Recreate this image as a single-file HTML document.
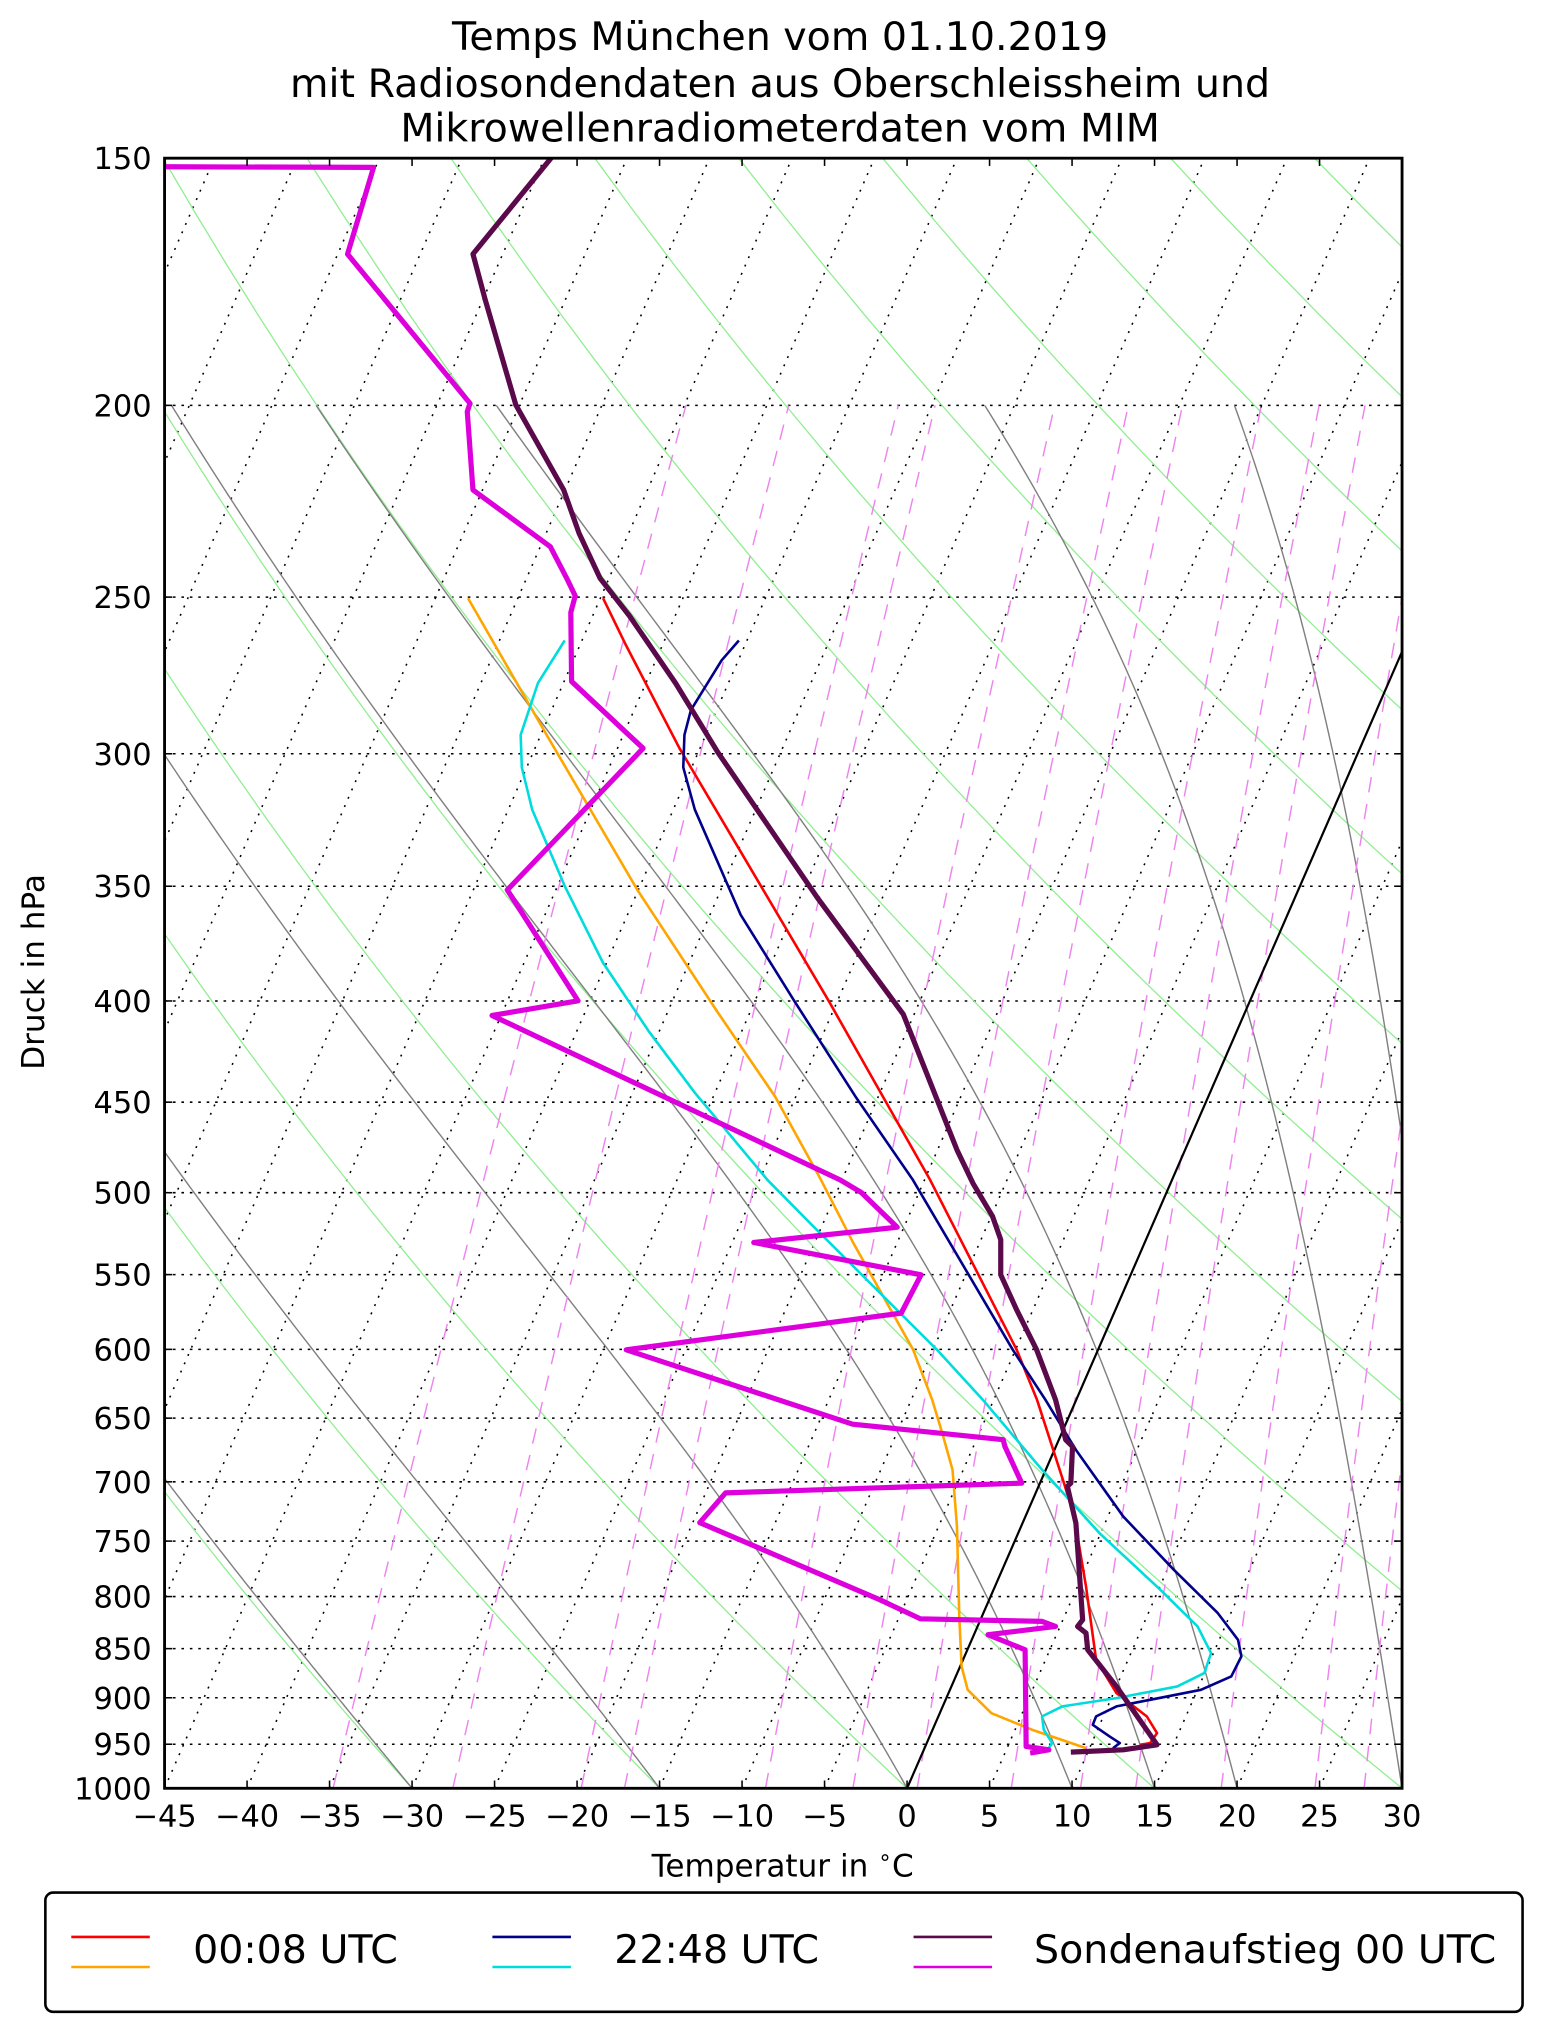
<!DOCTYPE html>
<html><head><meta charset="utf-8">
<style>
html,body{margin:0;padding:0;background:#fff;}
svg{display:block;}
text{font-family:"DejaVu Sans","Liberation Sans",sans-serif;fill:#000;}
</style></head>
<body>
<svg id="s" xmlns="http://www.w3.org/2000/svg" width="1542" height="2032" viewBox="0 0 1190 1568">
<defs><clipPath id="c"><rect x="127" y="122" width="955" height="1258"/></clipPath></defs>
<rect x="0" y="0" width="1190" height="1568" fill="#fff"/>
<g id="grid" clip-path="url(#c)" fill="none"></g>
<g id="data" clip-path="url(#c)" fill="none" stroke-linejoin="round"></g>
<rect x="127" y="122" width="955" height="1258" fill="none" stroke="#000" stroke-width="2.2"/>
<g id="ticks"></g>
<text x="602" y="38.6" font-size="30.5" text-anchor="middle">Temps München vom 01.10.2019</text>
<text x="602" y="74.6" font-size="30.5" text-anchor="middle">mit Radiosondendaten aus Oberschleissheim und</text>
<text x="602" y="109.3" font-size="30.5" text-anchor="middle">Mikrowellenradiometerdaten vom MIM</text>
<text x="604" y="1448" font-size="24" text-anchor="middle">Temperatur in <tspan font-size="17" dy="-9">∘</tspan><tspan dy="9">C</tspan></text>
<text transform="translate(34,750) rotate(-90)" font-size="24" text-anchor="middle">Druck in hPa</text>
<rect x="35" y="1460.5" width="1140" height="92" rx="6" fill="#fff" stroke="#000" stroke-width="2"/>
<line x1="55" y1="1494.7" x2="115.6" y2="1494.7" stroke="#ff0000" stroke-width="2"/>
<line x1="55" y1="1517.9" x2="115.6" y2="1517.9" stroke="#ffa500" stroke-width="2"/>
<text x="149" y="1515" font-size="30.5">00:08 UTC</text>
<line x1="380" y1="1494.7" x2="440.6" y2="1494.7" stroke="#00008b" stroke-width="2"/>
<line x1="380" y1="1517.9" x2="440.6" y2="1517.9" stroke="#00dcdc" stroke-width="2"/>
<text x="474" y="1515" font-size="30.5">22:48 UTC</text>
<line x1="705" y1="1494.7" x2="765.6" y2="1494.7" stroke="#5a0a4a" stroke-width="2"/>
<line x1="705" y1="1517.9" x2="765.6" y2="1517.9" stroke="#dd00dd" stroke-width="2"/>
<text x="798" y="1515" font-size="30.5">Sondenaufstieg 00 UTC</text>
</svg>
<script>
(function(){
var NS="http://www.w3.org/2000/svg";
var L=Math.log(1000/150);
function yP(p){return 122+Math.log(p/150)/L*1258;}
var K=0.4355, S=955/75;
function xT(T,y){return 700+S*T+K*(1380-y);}
function el(par,tag,at){var e=document.createElementNS(NS,tag);for(var k in at)e.setAttribute(k,at[k]);par.appendChild(e);return e;}
function pathD(pts){var d="";for(var i=0;i<pts.length;i++){d+=(i?"L":"M")+pts[i][0].toFixed(2)+" "+pts[i][1].toFixed(2);}return d;}
var g=document.getElementById("grid"), dg=document.getElementById("data"), tg=document.getElementById("ticks");
var pres=[];for(var p=150;p<=1000;p+=50)pres.push(p);
pres.forEach(function(p){var y=yP(p);el(g,"line",{x1:127,y1:y,x2:1082,y2:y,stroke:"#000","stroke-width":1.2,"stroke-dasharray":"2,4.5"});});
for(var T=-150;T<=30;T+=5){el(g,"line",{x1:xT(T,1380),y1:1380,x2:xT(T,122),y2:122,stroke:"#000","stroke-width":1.2,"stroke-dasharray":"1.5,5.5"});}
for(var T0=-45;T0<=250;T0+=15){var th=T0+273.15,pts=[];for(var p=1000;p>=148;p-=10){var Tk=th*Math.pow(p/1000,0.2857);var y=yP(p);pts.push([xT(Tk-273.15,y),y]);}
el(g,"path",{d:pathD(pts),stroke:"#90ee90","stroke-width":1,fill:"none"});}
function es(Tk){return 6.112*Math.exp(17.67*(Tk-273.15)/(Tk-29.65));}
function dTdp(Tk,p){var e=es(Tk),rs=0.622*e/(p-e);var Rd=287.04,Lv=2.501e6,Cp=1005;return (Rd*Tk+Lv*rs)/(Cp+Lv*Lv*rs*0.622/(Rd*Tk*Tk))/p;}
[-30,-15,0,10,15,20,30,35].forEach(function(T0){var Tk=T0+273.15,pts=[],p=1000,dp=-2;pts.push([xT(T0,1380),1380]);
while(p>200){var k1=dTdp(Tk,p),k2=dTdp(Tk+k1*dp/2,p+dp/2),k3=dTdp(Tk+k2*dp/2,p+dp/2),k4=dTdp(Tk+k3*dp,p+dp);Tk+=dp*(k1+2*k2+2*k3+k4)/6;p+=dp;var y=yP(p);pts.push([xT(Tk-273.15,y),y]);}
el(g,"path",{d:pathD(pts),stroke:"#808080","stroke-width":1.1,fill:"none"});});
[0.2,0.4,0.8,1,2,3,4,6,8,10,14,20,24].forEach(function(w){var pts=[];for(var p=1000;p>=200;p-=10){var e=w/1000*p/(0.622+w/1000),l=Math.log(e/6.112),Td=243.5*l/(17.67-l),y=yP(p);pts.push([xT(Td,y),y]);}
el(g,"path",{d:pathD(pts),stroke:"#ee82ee","stroke-width":1.1,fill:"none","stroke-dasharray":"12,9"});});
el(g,"line",{x1:xT(0,1380),y1:1380,x2:xT(0,122),y2:122,stroke:"#000","stroke-width":1.7});
var series=[
["#ffa500",2,[[361.2,461.6],[421,565.6],[491.9,686.7],[553.9,781.2],[598.2,846.2],[633.6,910.5],[658.6,959.3],[704.7,1041.6],[719.4,1080.2],[727.2,1106],[735.1,1134.2],[738.5,1177.9],[740.3,1247.4],[742.1,1286],[746.8,1304],[765.1,1322],[796.4,1334.8],[838.1,1349]]],
["#ff0000",2,[[465.4,461.6],[483,497.7],[524.4,577.4],[571.6,657.2],[639.5,772.3],[717.8,910.5],[784.6,1041.6],[800.3,1080.2],[821.1,1144.5],[829,1170.2],[838.1,1224.2],[845.9,1280.8],[861.6,1306.5],[885,1324.5],[892.9,1337.4],[887.6,1345.1],[879.8,1346.4]]],
["#00dcdc",2,[[435.8,494.2],[415.1,527.2],[401.8,567.1],[402.7,592.2],[410.7,624.7],[435.8,683.7],[465.3,742.8],[500.8,796],[536.2,843.2],[592.3,910.5],[627.8,946.5],[723.1,1041.6],[758.5,1080.2],[804.2,1134.2],[848.5,1183.1],[895.5,1226.8],[924.2,1255.1],[934.6,1275.7],[929.4,1291.1],[908.5,1301.4],[861.6,1310.4],[819.8,1316.8],[804.2,1324.5],[805.5,1334.8],[812,1345.1],[809.4,1349]]],
["#00008b",2,[[570.2,494.2],[556.9,509.5],[533.2,547.9],[528.2,567.1],[527.3,592.2],[536.2,624.7],[571.6,705.9],[612.9,772.3],[660.2,846.2],[704.5,910.5],[781.6,1041.6],[806.8,1080.2],[830.3,1118.8],[866.8,1170.2],[905.9,1211.4],[939.8,1244.8],[955.4,1265.4],[958,1278.2],[950.2,1293.7],[926.8,1304],[887.6,1311.7],[861.6,1316.8],[845.9,1324.5],[843.3,1331],[856.3,1340],[864.2,1345.1],[858.9,1349]]],
["#dd00dd",4,[[120,128.6],[288.3,129.1],[268.2,196],[362.7,311.2],[360.6,317.6],[365,378],[424.7,421.8],[438,447.5],[443.9,459.8],[440.5,472.6],[441.1,525.8],[496.3,577.4],[391.5,686.7],[446.1,772.3],[379.7,783.6],[648.4,910.5],[664.7,920.2],[692.4,947],[581.7,958.8],[710.8,983.7],[695.5,1013.3],[483.3,1041.6],[658,1099],[774.2,1111],[775.5,1116.2],[788.5,1144.5],[560,1152],[540,1175],[679,1234.5],[710.3,1249.2],[804.2,1251.2],[814.6,1255.1],[762.5,1261.5],[791.1,1273.1],[791.9,1347.7],[809.4,1350.3],[795,1352.8]]],
["#5a0a4a",4,[[426.2,120.8],[365,196],[374.5,231.4],[398.1,312.5],[435,378],[446.9,411.5],[463.1,446.2],[486,475.5],[521.4,527.2],[553.9,580.4],[630.7,692.6],[697.1,782.7],[738.5,887.3],[750.8,913],[766,938.7],[772.3,956.7],[772.3,983.7],[784.6,1010.8],[800,1041.6],[814.6,1080.2],[822.4,1111],[827.7,1116.2],[826.4,1144.5],[823.7,1147],[830.3,1175.4],[835.5,1250],[831.6,1255.1],[838.1,1260.2],[839.4,1273.1],[861.6,1301.4],[892.9,1346.4],[866.8,1350.3],[826.4,1352.1]]]
];
series.forEach(function(s){el(dg,"path",{d:pathD(s[2]),stroke:s[0],"stroke-width":s[1],fill:"none"});});
pres.forEach(function(p){var y=yP(p);
el(tg,"line",{x1:127,y1:y,x2:133,y2:y,stroke:"#000","stroke-width":1.2});
el(tg,"line",{x1:1082,y1:y,x2:1076,y2:y,stroke:"#000","stroke-width":1.2});
var t=el(tg,"text",{x:117,y:y+8.5,"font-size":23.5,"text-anchor":"end"});t.textContent=String(p);});
for(var T=-45;T<=30;T+=5){var x=127+(T+45)*S;
el(tg,"line",{x1:x,y1:1380,x2:x,y2:1374,stroke:"#000","stroke-width":1.2});
el(tg,"line",{x1:x,y1:122,x2:x,y2:128,stroke:"#000","stroke-width":1.2});
var t=el(tg,"text",{x:x,y:1409.5,"font-size":23.5,"text-anchor":"middle"});t.textContent=(T<0?"\u2212"+(-T):String(T));}
})();
</script>
</body></html>
